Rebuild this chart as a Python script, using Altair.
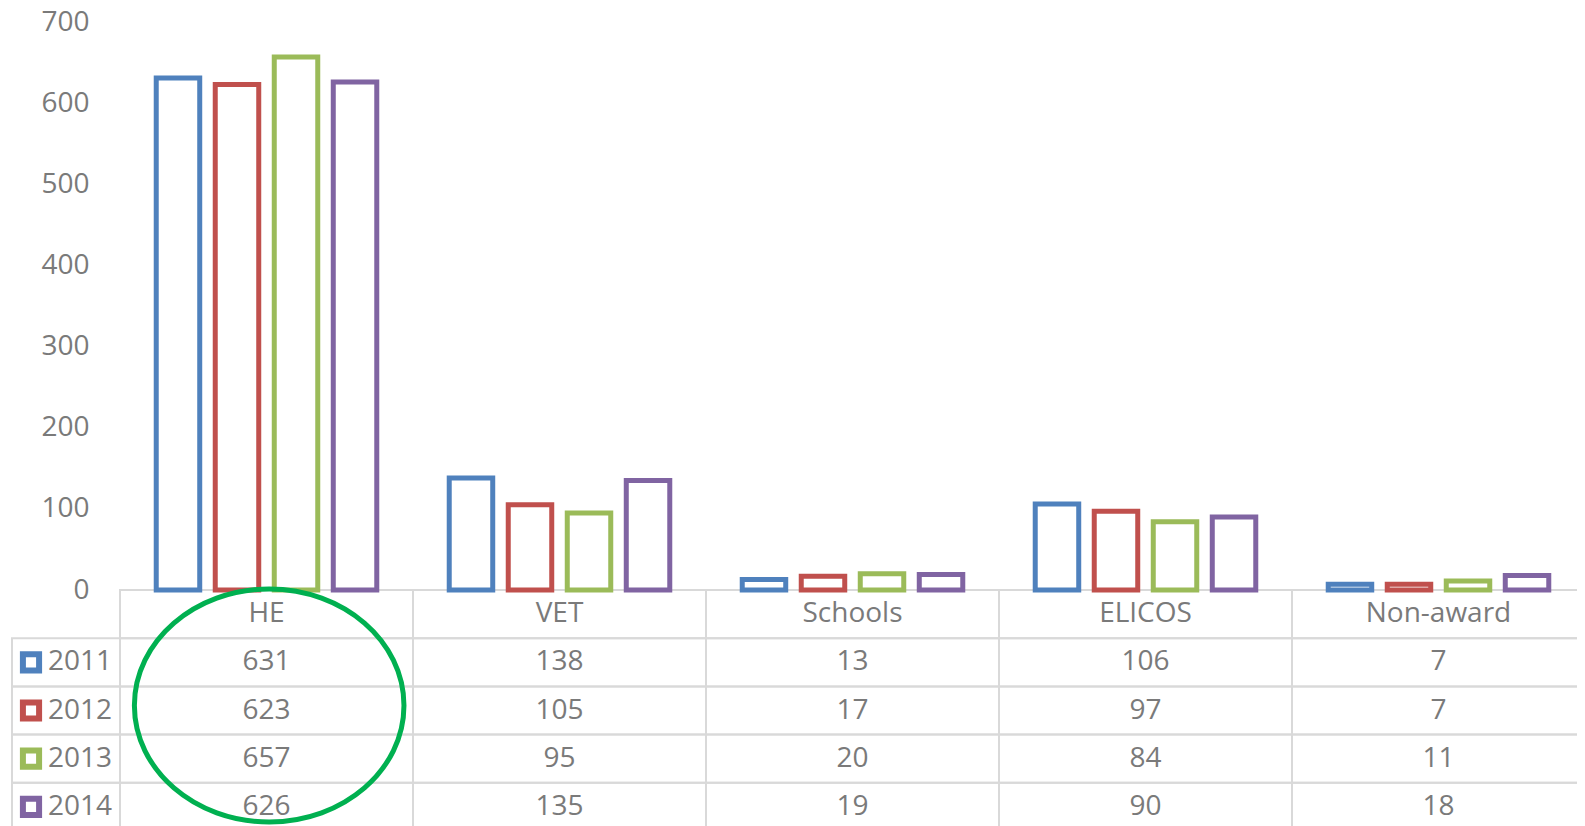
import altair as alt
import pandas as pd

# ---- data ----
categories = ["HE", "VET", "Schools", "ELICOS", "Non-award"]
years = ["2011", "2012", "2013", "2014"]
v2011 = [631, 138, 13, 106, 7]
v2012 = [623, 105, 17, 97, 7]
v2013 = [657, 95, 20, 84, 11]
v2014 = [626, 135, 19, 90, 18]
y_ticks = [0, 100, 200, 300, 400, 500, 600, 700]
colors = ["#4F81BD", "#C0504D", "#9BBB59", "#8064A2"]
highlight = {"cat": "HE", "row": "2012"}

series = {"2011": v2011, "2012": v2012, "2013": v2013, "2014": v2014}
rows = []
for yr in years:
    for c, v in zip(categories, series[yr]):
        rows.append({"cat": c, "year": yr, "row": yr, "value": v})
df = pd.DataFrame(rows)

HDR = "hdr"
table_rows = [HDR] + years
grid_df = pd.DataFrame([{"cat": c, "row": r} for r in table_rows for c in categories])
hdr_df = pd.DataFrame([{"cat": c, "row": HDR, "label": c} for c in categories])
leg_df = pd.DataFrame([{"col": "legend", "sq": "sq", "txt": "txt", "row": yr, "year": yr} for yr in years])
ell_df = pd.DataFrame([highlight])

FONT = "Open Sans"
FS = 28
TXT = "#7a7a7a"
GRID = "#d9d9d9"

x_scale = alt.Scale(domain=categories, range=[0, 1465], paddingInner=0, paddingOuter=0)
xo_scale = alt.Scale(domain=years, paddingInner=0.263, paddingOuter=0.614)
y_scale = alt.Scale(domain=[0, 700], range=[568, 0], nice=False)
row_scale = alt.Scale(domain=table_rows, range=[568, 809], paddingInner=0, paddingOuter=0)
leg_scale = alt.Scale(domain=["legend"], range=[-108, 0], paddingInner=0, paddingOuter=0)
leg_pt_scale = alt.Scale(type="point", domain=["sq", "txt"], range=[-89, -72], padding=0)
col_scale = alt.Scale(domain=years, range=colors)

grid = alt.Chart(grid_df).mark_rect(filled=False, stroke=GRID, strokeWidth=2).encode(
    x=alt.X("cat:N", scale=x_scale, axis=None),
    y=alt.Y("row:N", scale=row_scale, axis=None),
)

leg_grid = alt.Chart(leg_df).mark_rect(filled=False, stroke=GRID, strokeWidth=2).encode(
    x=alt.X("col:N", scale=leg_scale, axis=None),
    y=alt.Y("row:N", scale=row_scale, axis=None),
)

bars = alt.Chart(df).mark_bar(filled=False, strokeWidth=5).encode(
    x=alt.X("cat:N", scale=x_scale, axis=None),
    xOffset=alt.XOffset("year:N", scale=xo_scale),
    y=alt.Y(
        "value:Q",
        scale=y_scale,
        title=None,
        axis=alt.Axis(
            values=y_ticks,
            ticks=False,
            domain=False,
            grid=False,
            labelPadding=31,
            labelFont=FONT,
            labelFontSize=FS,
            labelColor=TXT,
        ),
    ),
    stroke=alt.Stroke("year:N", scale=col_scale, legend=None),
)

hdr_text = alt.Chart(hdr_df).mark_text(font=FONT, fontSize=FS, color=TXT, baseline="middle").encode(
    x=alt.X("cat:N", scale=x_scale, axis=None),
    y=alt.Y("row:N", scale=row_scale, axis=None),
    text="label:N",
)

val_text = alt.Chart(df).mark_text(font=FONT, fontSize=FS, color=TXT, baseline="middle").encode(
    x=alt.X("cat:N", scale=x_scale, axis=None),
    y=alt.Y("row:N", scale=row_scale, axis=None),
    text="value:Q",
)

leg_sq = alt.Chart(leg_df).mark_point(shape="square", filled=False, size=262, strokeWidth=6, opacity=1).encode(
    x=alt.X("sq:N", scale=leg_pt_scale, axis=None),
    y=alt.Y("row:N", scale=row_scale, axis=None),
    stroke=alt.Stroke("year:N", scale=col_scale, legend=None),
)

leg_txt = alt.Chart(leg_df).mark_text(font=FONT, fontSize=FS, color=TXT, align="left", baseline="middle").encode(
    x=alt.X("txt:N", scale=leg_pt_scale, axis=None),
    y=alt.Y("row:N", scale=row_scale, axis=None),
    text="year:N",
)

# ellipse outline (unit path, slightly shifted right/up of the cell centre)
ELLIPSE = ("M 1.180 -0.043 C 1.180 0.509 0.662 0.957 0.023 0.957 "
           "C -0.616 0.957 -1.134 0.509 -1.134 -0.043 "
           "C -1.134 -0.595 -0.616 -1.043 0.023 -1.043 "
           "C 0.662 -1.043 1.180 -0.595 1.180 -0.043 Z")
ellipse = alt.Chart(ell_df).mark_point(
    shape=ELLIPSE, filled=False, size=54289, stroke="#00B050", strokeWidth=5, opacity=1
).encode(
    x=alt.X("cat:N", scale=x_scale, axis=None),
    y=alt.Y("row:N", scale=row_scale, axis=None),
)

chart = (
    alt.layer(grid, leg_grid, bars, hdr_text, val_text, leg_sq, leg_txt, ellipse)
    .resolve_scale(x="independent", y="independent")
    .properties(
        width=1457,
        height=804,
        padding={"left": 112, "top": 14, "right": 0, "bottom": 0},
        autosize=alt.AutoSizeParams(type="none"),
        background="white",
    )
    .configure_view(strokeWidth=0)
)

chart.save("out.html", embed_options={"renderer": "svg", "actions": False})
